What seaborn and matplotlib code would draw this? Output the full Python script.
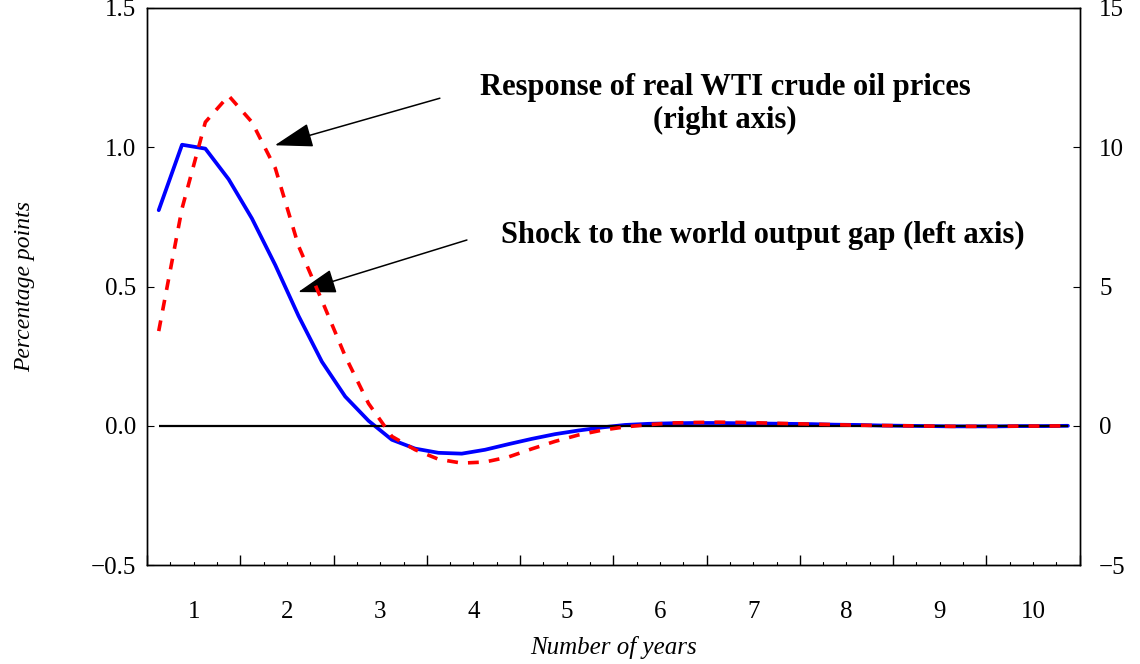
import numpy as np
import pandas as pd
import matplotlib
matplotlib.use("Agg")
import matplotlib.pyplot as plt
import seaborn as sns

# quarterly impulse responses, 10 years (40 quarters)
quarter = np.arange(1, 41)
output_gap = [0.774, 1.009, 0.995, 0.885, 0.744, 0.577, 0.394, 0.230, 0.105, 0.018,
              -0.050, -0.082, -0.097, -0.100, -0.086, -0.066, -0.047, -0.030, -0.017, -0.006,
              0.003, 0.007, 0.009, 0.010, 0.010, 0.009, 0.008, 0.007, 0.006, 0.004,
              0.003, 0.001, 0.000, -0.001, -0.002, -0.002, -0.002, -0.001, -0.001, 0.000]
oil_price = [3.4, 7.8, 10.9, 11.85, 10.9, 9.25, 6.45, 4.5, 2.5, 0.8,
             -0.38, -0.86, -1.2, -1.34, -1.3, -1.12, -0.83, -0.56, -0.33, -0.16,
             -0.04, 0.04, 0.10, 0.12, 0.13, 0.12, 0.10, 0.08, 0.06, 0.04,
             0.02, 0.01, 0.0, -0.01, -0.02, -0.02, -0.02, -0.01, -0.01, 0.0]
year_labels = [str(y) for y in range(1, 11)]

df = pd.DataFrame({
    "anos": (quarter - 0.5) / 4,
    "hiato": output_gap,
    "petroleo": oil_price,
})

sns.set_style("ticks")
plt.rcParams["font.family"] = ["Liberation Serif", "DejaVu Serif"]
plt.rcParams["axes.unicode_minus"] = True
plt.rcParams["text.color"] = "black"
plt.rcParams["axes.labelcolor"] = "black"
plt.rcParams["xtick.color"] = "black"
plt.rcParams["ytick.color"] = "black"

fig = plt.figure(figsize=(11.4, 6.64), dpi=100)
ax = fig.add_axes([0.129, 0.149, 0.818, 0.839])
ax2 = ax.twinx()

sns.lineplot(data=df, x="anos", y="hiato", ax=ax, color="#0000ff", lw=2.7, zorder=3)
ax.hlines(0, df["anos"].iloc[0], df["anos"].iloc[-1], color="black", lw=1.6, zorder=4)
sns.lineplot(data=df, x="anos", y="petroleo", ax=ax2, color="#ff0000", lw=2.6,
             linestyle=(0, (3.0, 2.8)), zorder=4)

ax.set_xlim(0, 10)
ax.set_ylim(-0.5, 1.5)
ax2.set_ylim(-5, 15)

ax.set_yticks([-0.5, 0.0, 0.5, 1.0, 1.5])
ax.set_yticklabels(["\u22120.5", "0.0", "0.5", "1.0", "1.5"])
ax2.set_yticks([-5, 0, 5, 10, 15])
ax2.set_yticklabels(["\u22125", "0", "5", "10", "15"])

# year ticks at boundaries, labels at the middle of each year
ax.set_xticks(np.arange(0, 11), labels=[""] * 11)
ax.set_xticks(np.arange(0.5, 10), labels=year_labels, minor=True)
ax.tick_params(axis="x", which="major", direction="in", length=7, width=1)
ax.tick_params(axis="x", which="minor", length=0, pad=26, labelsize=18)
for q in np.arange(0.25, 10, 0.25):
    if abs(q - round(q)) > 1e-6:
        ax.plot([q, q], [-0.5, -0.5 + 0.012], color="black", lw=0.8,
                clip_on=False, zorder=5)

ax.tick_params(axis="y", direction="in", length=5, labelsize=18, pad=8)
ax2.tick_params(axis="y", direction="in", length=5, labelsize=18, pad=14)

for a in (ax, ax2):
    for s in a.spines.values():
        s.set_linewidth(1.0)
        s.set_color("black")

ax.set_xlabel("Number of years", fontsize=18, style="italic", labelpad=9)
ax.set_ylabel("Percentage points", fontsize=17, style="italic", labelpad=40)
ax2.set_ylabel("")

seta = dict(arrowstyle="-|>,head_length=1.2,head_width=0.38", color="black",
            lw=1.1, mutation_scale=20, shrinkA=0, shrinkB=0)
ax.text(6.2, 1.155, "Response of real WTI crude oil prices\n(right axis)",
        ha="center", va="center", fontsize=22, fontweight="bold", linespacing=1.2)
ax.annotate("", xy=(1.37, 1.007), xytext=(3.14, 1.176), arrowprops=seta)
ax.text(6.6, 0.685, "Shock to the world output gap (left axis)",
        ha="center", va="center", fontsize=22, fontweight="bold")
ax.annotate("", xy=(1.62, 0.48), xytext=(3.43, 0.667), arrowprops=seta)

fig.savefig("out.png", dpi=100)
